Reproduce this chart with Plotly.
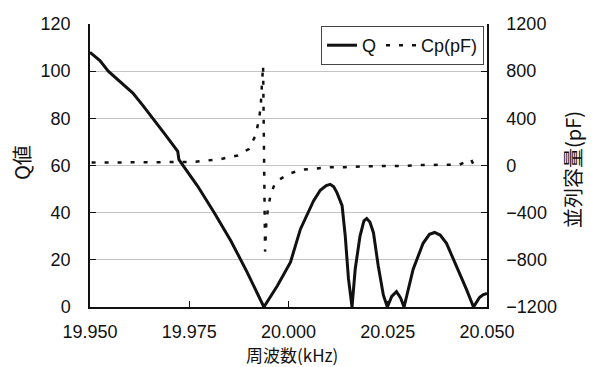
import plotly.graph_objects as go

# Frequency (kHz) and Q values
q_freq = [19.9500, 19.9525, 19.9546, 19.9578, 19.9608, 19.9633, 19.9658, 19.9690,
          19.9721, 19.9724, 19.9771, 19.9813, 19.9855, 19.9896, 19.9938,
          19.9972, 20.0005, 20.0030, 20.0063, 20.0080, 20.0095, 20.0105, 20.0114, 20.0122, 20.0135,
          20.0143, 20.0151, 20.0160,
          20.0168, 20.0180, 20.0190, 20.0197, 20.0205, 20.0214, 20.0226, 20.0239, 20.0249,
          20.0260, 20.0272, 20.0282, 20.0291,
          20.0314, 20.0339, 20.0355, 20.0368, 20.0382, 20.0398, 20.0423, 20.0448, 20.0466,
          20.0481, 20.0490, 20.0500]
q_vals = [108.0, 104.5, 100.0, 95.0, 90.7, 85.5, 79.8, 73.0,
          66.0, 62.5, 51.3, 40.0, 28.0, 14.7, 0.0,
          9.0, 19.0, 33.0, 45.0, 49.5, 51.5, 52.0, 51.0, 48.5, 43.0,
          30.0, 12.0, 0.0,
          16.0, 30.0, 36.5, 37.5, 36.0, 31.5, 17.5, 5.0, 0.0,
          4.5, 6.5, 4.0, 0.0,
          16.0, 27.0, 30.8, 31.6, 30.5, 27.0, 17.5, 7.6, 0.0,
          4.0, 5.2, 5.8]

# Parallel capacitance (pF)
cp_freq = [19.9504, 19.9579, 19.9654, 19.9762, 19.9830, 19.9872, 19.9900, 19.9917,
           19.9925, 19.9930, 19.9932, 19.9934, 19.9936,
           19.9941, 19.9943, 19.9944, 19.9948, 19.9955, 19.9967, 20.0001, 20.0034,
           20.0072, 20.0107, 20.0143, 20.0180, 20.0216, 20.0251, 20.0289, 20.0323,
           20.0360, 20.0398, 20.0431, 20.0460, 20.0473]
cp_vals = [25, 25, 25, 30, 55, 85, 140, 254,
           380, 495, 623, 734, 846,
           -730, -610, -490, -372, -248, -140, -70, -36,
           -22, -14, -14, -8, -5, -3, -5, 3,
           3, 3, 8, 51, -42]

x_ticks = [19.950, 19.975, 20.000, 20.025, 20.050]
x_tick_text = ["19.950", "19.975", "20.000", "20.025", "20.050"]

FONT = "Liberation Sans, Arial, Noto Sans CJK JP, sans-serif"
CJK = "Noto Sans CJK JP, Liberation Sans, sans-serif"

ML, MR, MT, MB = 90, 110, 24, 60
W, H = 597, 367

fig = go.Figure()
fig.add_trace(go.Scatter(x=q_freq, y=q_vals, name="Q", mode="lines",
                         line=dict(color="#111111", width=3), yaxis="y"))
fig.add_trace(go.Scatter(x=cp_freq, y=cp_vals, name="Cp(pF)", mode="lines",
                         line=dict(color="#111111", width=2.5, dash="4px,9px"), yaxis="y2"))


def px_x(x):
    return (x - ML) / (W - ML - MR)


def px_y(y):
    return 1 - (y - MT) / (H - MT - MB)


fig.update_layout(
    width=W, height=H,
    margin=dict(l=ML, r=MR, t=MT, b=MB),
    paper_bgcolor="white", plot_bgcolor="white",
    font=dict(family=FONT, size=18, color="#111111"),
    showlegend=True,
    legend=dict(orientation="h", x=px_x(484), y=px_y(26), xanchor="right", yanchor="top",
                bgcolor="white", bordercolor="#444444", borderwidth=1,
                font=dict(size=18), itemwidth=30, tracegroupgap=0),
    xaxis=dict(range=[19.95, 20.05], tickvals=x_ticks, ticktext=x_tick_text,
               ticks="inside", ticklen=6, tickcolor="#111111",
               showline=True, linecolor="#111111", linewidth=1.5,
               showgrid=False, zeroline=False, ticklabelstandoff=8),
    yaxis=dict(range=[0, 120], dtick=20, ticks="inside", ticklen=6, tickcolor="#111111",
               showline=True, linecolor="#111111", linewidth=1.5,
               showgrid=True, gridcolor="#c4c4c4", gridwidth=1, zeroline=False,
               ticklabelstandoff=14),
    yaxis2=dict(range=[-1200, 1200], dtick=400, overlaying="y", side="right",
                ticks="inside", ticklen=6, tickcolor="#111111",
                showline=True, linecolor="#111111", linewidth=1.5,
                showgrid=False, zeroline=False, ticklabelstandoff=14),
    annotations=[
        dict(text="Q値", x=px_x(22), y=px_y(163), xref="paper", yref="paper", showarrow=False,
             xanchor="center", yanchor="middle",
             textangle=-90, font=dict(family=CJK, size=20)),
        dict(text="並列容量(pF)", x=px_x(572), y=px_y(170), xref="paper", yref="paper",
             showarrow=False, xanchor="center", yanchor="middle",
             textangle=-90, font=dict(family=CJK, size=20)),
        dict(text="周波数(kHz)", x=px_x(292), y=px_y(354), xref="paper", yref="paper",
             showarrow=False, xanchor="center", yanchor="middle", borderpad=0,
             font=dict(family=CJK, size=17)),
    ],
)

fig.write_html("out.html", config={"displayModeBar": False},
               post_script="document.body.style.margin='0';document.body.style.overflow='hidden';")
